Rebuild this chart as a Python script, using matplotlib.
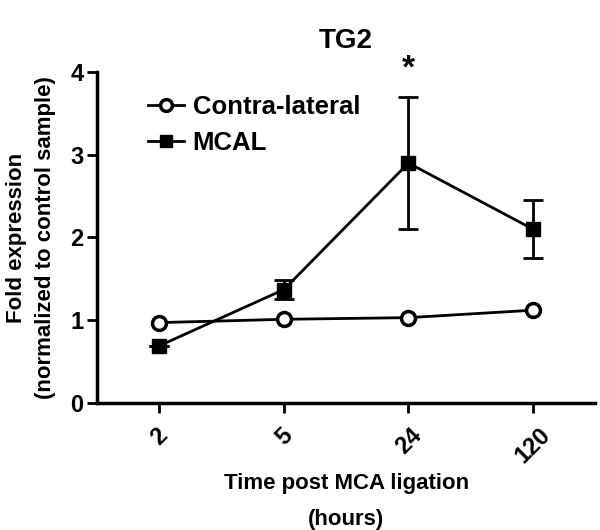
import numpy as np
import matplotlib
matplotlib.use("Agg")
import matplotlib.pyplot as plt

plt.rcParams['font.family'] = ['Liberation Sans', 'DejaVu Sans']
plt.rcParams['font.weight'] = 'bold'

# Datos
horas = ['2', '5', '24', '120']
contra = [0.97, 1.01, 1.03, 1.12]
mcal = [0.69, 1.37, 2.90, 2.10]
mcal_err = [0.0, 0.12, 0.80, 0.35]

x = np.arange(len(horas))

fig = plt.figure(figsize=(6, 5.3), dpi=100)
ax = fig.add_axes([0.162, 0.24, 0.83, 0.624])

ax.plot(x, contra, '-o', color='black', linewidth=2, markersize=10,
        markerfacecolor='white', markeredgewidth=2.5, label='Contra-lateral', zorder=4)
ax.plot(x, mcal, '-s', color='black', linewidth=2, markersize=9.5, label='MCAL', zorder=3)
ax.errorbar(x, mcal, yerr=mcal_err, fmt='none', ecolor='black',
            capsize=7, capthick=2, elinewidth=2, zorder=3)

ax.text(x[2], 4.04, '*', ha='center', va='center', fontsize=24, fontweight='bold')

ax.set_xlim(-0.5, 3.5)
ax.set_ylim(0, 4)
ax.set_yticks(np.arange(0, 5, 1))
ax.set_xticks(x)
ax.set_xticklabels(horas, rotation=45, fontsize=17, fontweight='bold')
ax.tick_params(axis='y', labelsize=17, width=2, length=7, pad=3)
ax.tick_params(axis='x', width=2, length=7, pad=8)
for s in ['top', 'right']:
    ax.spines[s].set_visible(False)
for s in ['left', 'bottom']:
    ax.spines[s].set_linewidth(2.5)

ax.set_title('TG2', fontsize=20, fontweight='bold', pad=17)
ax.set_xlabel('Time post MCA ligation\n(hours)', fontsize=16, fontweight='bold', linespacing=1.9)
ax.set_ylabel('Fold expression\n(normalized to control sample)', fontsize=16,
              fontweight='bold', linespacing=1.5)
ax.yaxis.set_label_coords(-0.082, 0.5)

ax.legend(loc='upper left', bbox_to_anchor=(0.055, 1.0), frameon=False,
          fontsize=18.5, handlelength=1.4, handletextpad=0.35, labelspacing=0.45,
          markerscale=0.85)

fig.savefig('out.png', dpi=100)
